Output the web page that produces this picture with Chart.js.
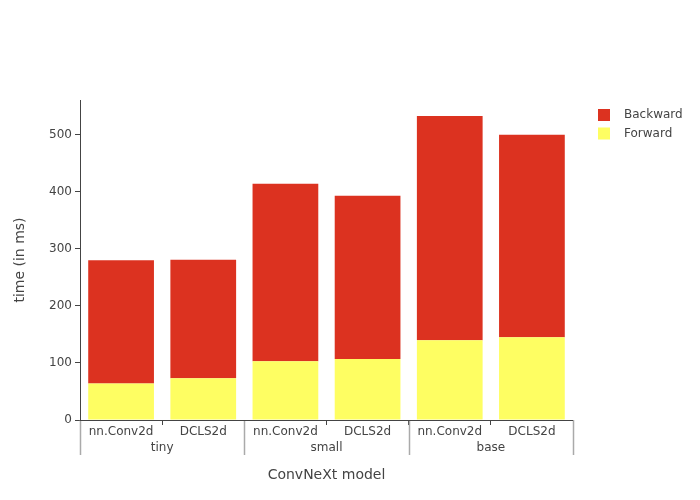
<!DOCTYPE html>
<html>
<head>
<meta charset="utf-8">
<script src="https://cdn.jsdelivr.net/npm/chart.js@4"></script>
<style>
  html, body { margin: 0; padding: 0; background: #fff; }
  #wrap { width: 700px; height: 500px; }
</style>
</head>
<body>
<div id="wrap"><canvas id="timeChart" width="700" height="500"></canvas></div>
<script>
    // data
    var layers = ['nn.Conv2d', 'DCLS2d', 'nn.Conv2d', 'DCLS2d', 'nn.Conv2d', 'DCLS2d'];
    var models = ['tiny', 'small', 'base'];
    var forward = [64, 73, 103, 107, 140, 145];
    var backward = [216, 208, 311, 286, 393, 355];
    var yTicks = [0, 100, 200, 300, 400, 500];

    var FONT = "'DejaVu Sans', Verdana, sans-serif";
    var TXT = '#444';

    // long separators between the model groups
    var groupLines = {
        id: 'groupLines',
        afterDraw: function(chart) {
            var g = chart.scales.x2;
            var x = chart.scales.x;
            var ctx = chart.ctx;
            var step = (g.right - g.left) / models.length;
            ctx.save();
            ctx.strokeStyle = '#aaa';
            ctx.lineWidth = 1.5;
            for (var i = 0; i <= models.length; i++) {
                var px = Math.round(g.left + i * step) + 0.5;
                ctx.beginPath();
                ctx.moveTo(px, x.top);
                ctx.lineTo(px, 455);
                ctx.stroke();
            }
            ctx.strokeStyle = TXT;
            ctx.lineWidth = 1;
            ctx.beginPath();
            ctx.moveTo(x.left, x.top + 0.5);
            ctx.lineTo(x.right, x.top + 0.5);
            ctx.stroke();
            ctx.restore();
        }
    };

    // legend on the right, Backward listed first
    var sideLegend = {
        id: 'sideLegend',
        afterDraw: function(chart) {
            var ctx = chart.ctx;
            var sets = chart.data.datasets.slice().reverse();
            ctx.save();
            ctx.font = '12px ' + FONT;
            ctx.textBaseline = 'middle';
            ctx.textAlign = 'left';
            sets.forEach(function(ds, i) {
                var cy = 115 + i * 18.5;
                ctx.fillStyle = ds.backgroundColor;
                ctx.fillRect(598, cy - 6, 12, 12);
                ctx.fillStyle = TXT;
                ctx.fillText(ds.label, 624, cy);
            });
            ctx.restore();
        }
    };

    var ctx = document.getElementById('timeChart').getContext('2d');
    new Chart(ctx, {
        type: 'bar',
        data: {
            labels: layers,
            datasets: [{
                label: 'Forward',
                data: forward,
                backgroundColor: '#FEFE62',
                borderWidth: 0,
                barPercentage: 0.8,
                categoryPercentage: 1
            }, {
                label: 'Backward',
                data: backward,
                backgroundColor: '#DC3220',
                borderWidth: 0,
                barPercentage: 0.8,
                categoryPercentage: 1
            }]
        },
        options: {
            responsive: false,
            animation: false,
            layout: { padding: { top: 100, left: 12, right: 127, bottom: 0 } },
            plugins: {
                tooltip: { enabled: false },
                legend: { display: false }
            },
            scales: {
                x: {
                    stacked: true,
                    offset: true,
                    grid: { offset: true, drawOnChartArea: false, tickLength: 5, color: TXT },
                    border: { display: true, color: TXT },
                    ticks: { color: TXT, font: { family: FONT, size: 12 }, padding: 0, maxRotation: 0 },
                    afterFit: function(s) { s.height = 21; }
                },
                x2: {
                    type: 'category',
                    labels: models,
                    position: 'bottom',
                    offset: true,
                    grid: { display: false },
                    border: { display: false },
                    ticks: { color: TXT, font: { family: FONT, size: 12 }, padding: -8 },
                    title: {
                        display: true,
                        text: 'ConvNeXt model',
                        color: TXT,
                        font: { family: FONT, size: 14 },
                        padding: { top: 0, bottom: 16 }
                    },
                    afterFit: function(s) { s.height = 59; }
                },
                y: {
                    stacked: true,
                    min: 0,
                    max: 561,
                    afterBuildTicks: function(s) {
                        s.ticks = yTicks.map(function(v) { return { value: v }; });
                    },
                    grid: { drawOnChartArea: false, tickLength: 5, color: TXT },
                    border: { display: true, color: TXT },
                    ticks: { color: TXT, font: { family: FONT, size: 12 }, padding: 3 },
                    title: {
                        display: true,
                        text: 'time (in ms)',
                        color: TXT,
                        font: { family: FONT, size: 14 },
                        padding: { top: 0, bottom: 0 }
                    },
                    afterFit: function(s) { s.width = 68; }
                }
            }
        },
        plugins: [groupLines, sideLegend]
    });
</script>
</body>
</html>
